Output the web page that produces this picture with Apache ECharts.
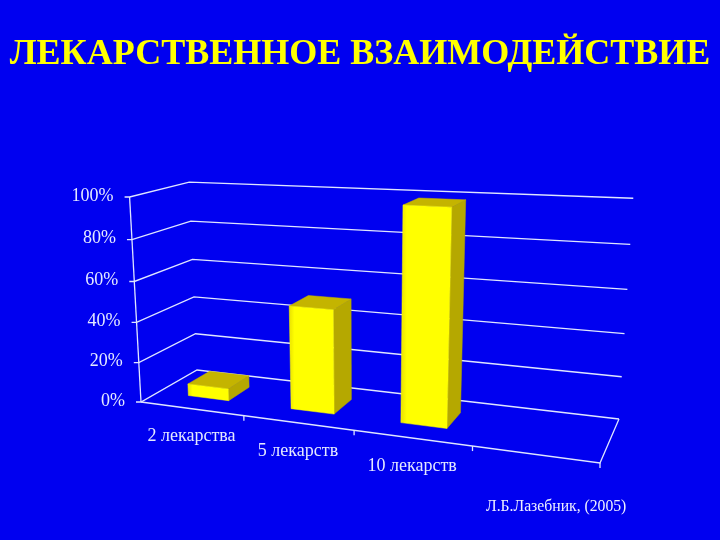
<!DOCTYPE html>
<html>
<head>
<meta charset="utf-8">
<style>html,body{margin:0;padding:0;background:#0000f0}#c{width:720px;height:540px}</style>
<script src="https://cdn.jsdelivr.net/npm/echarts@6/dist/echarts.min.js"></script>
</head>
<body>
<div id="c"></div>
<script>
const titleText = 'ЛЕКАРСТВЕННОЕ ВЗАИМОДЕЙСТВИЕ';
const sourceText = 'Л.Б.Лазебник, (2005)';
const categories = ['2 лекарства', '5 лекарств', '10 лекарств', ''];
const drugShare = [6, 50, 99, null];
const yTicks = [0, 20, 40, 60, 80, 100];

// Camera: where the chart box's corners land on the page (perspective anchors)
const FL0 = [141, 402], FR0 = [600, 463], BR0 = [619, 419], BL0 = [197, 370];
const FL1 = [129, 195], BL1 = [190, 180], BR1 = [633, 203];
const U_WARP = 0.04;

const LINE = '#dfe6ff', TEXT = '#e4e9ff';
const FRONT = '#ffff00', FRONT_EDGE = '#e8e000', TOP = '#c4b400', SIDE = '#b5a800';

function solve3(A, b) {
  const M = A.map((r, i) => r.concat(b[i]));
  for (let i = 0; i < 3; i++) {
    let p = i;
    for (let r = i + 1; r < 3; r++) if (Math.abs(M[r][i]) > Math.abs(M[p][i])) p = r;
    [M[i], M[p]] = [M[p], M[i]];
    for (let r = 0; r < 3; r++) if (r !== i) {
      const f = M[r][i] / M[i][i];
      for (let c = i; c < 4; c++) M[r][c] -= f * M[i][c];
    }
  }
  return M.map((r, i) => r[3] / r[i]);
}
// Floor homography (u along categories, v depth)
const H = (function () {
  const [x0, y0] = FL0, [x1, y1] = FR0, [x2, y2] = BR0, [x3, y3] = BL0;
  const dx1 = x1 - x2, dx2 = x3 - x2, sx = x0 - x1 + x2 - x3;
  const dy1 = y1 - y2, dy2 = y3 - y2, sy = y0 - y1 + y2 - y3;
  const den = dx1 * dy2 - dx2 * dy1;
  const g = (sx * dy2 - dx2 * sy) / den, h = (dx1 * sy - sx * dy1) / den;
  return { a: x1 - x0 + g * x1, b: x3 - x0 + h * x3, c: x0,
           d: y1 - y0 + g * y1, e: y3 - y0 + h * y3, f: y0, g, h };
})();
// Height column fitted from the three known top corners
const V = (function () {
  const eqs = [], rhs = [];
  [[0, 0, FL1], [0, 1, BL1], [1, 1, BR1]].forEach(([u, v, s]) => {
    const W = H.g * u + H.h * v + 1;
    eqs.push([1, 0, -s[0]]); rhs.push(s[0] * W - (H.a * u + H.b * v + H.c));
    eqs.push([0, 1, -s[1]]); rhs.push(s[1] * W - (H.d * u + H.e * v + H.f));
  });
  const A = [0, 1, 2].map(i => [0, 1, 2].map(j => eqs.reduce((t, r) => t + r[i] * r[j], 0)));
  const b = [0, 1, 2].map(i => eqs.reduce((t, r, n) => t + r[i] * rhs[n], 0));
  const [p, q, k] = solve3(A, b);
  return { p, q, k };
})();
function proj(u0, v, t) {
  const u = u0 * (1 + U_WARP) / (1 + U_WARP * u0);
  const w = H.g * u + H.h * v + 1 + V.k * t;
  return [(H.a * u + H.b * v + H.c + V.p * t) / w, (H.d * u + H.e * v + H.f + V.q * t) / w];
}

const lineStyle = { stroke: LINE, lineWidth: 1.3, fill: null };
function poly(points) { return { type: 'polyline', shape: { points }, style: lineStyle, silent: true }; }
function face(points, fill) { return { type: 'polygon', shape: { points }, style: { fill, stroke: typeof fill === 'string' ? fill : FRONT, lineWidth: 0.5 } }; }
const norm = {
  u: (c, s) => (c[0] - s.x) / s.width,
  t: (c, s) => (s.y + s.height - c[1]) / s.height
};
const frontFill = new echarts.graphic.LinearGradient(0, 0, 1, 0, [
  { offset: 0, color: FRONT_EDGE }, { offset: 0.12, color: FRONT }, { offset: 1, color: FRONT }
]);

const option = {
  animation: false,
  backgroundColor: '#0000f0',
  title: [
    { text: titleText, left: 'center', top: 32, textStyle: { fontFamily: 'Liberation Serif', fontSize: 36, fontWeight: 'bold', color: '#ffff00' } },
    { text: sourceText, left: 481, top: 494, textStyle: { fontFamily: 'Liberation Serif', fontSize: 15.7, fontWeight: 'normal', color: '#eef0ff' } }
  ],
  // Hidden scales: values pass through them, then through the perspective projection
  grid: { left: 0, top: 0, width: 400, height: 400, show: false },
  xAxis: { type: 'category', data: categories, show: false },
  yAxis: { type: 'value', min: 0, max: 100, interval: 20, show: false },
  series: [
    { // floor outline and chart axis
      type: 'custom', coordinateSystem: 'cartesian2d', silent: true, z: 1,
      data: [[0, 0]],
      renderItem(params, api) {
        const band = api.size([1, 0])[0], s = params.coordSys, n = categories.length;
        const kids = [
          poly([proj(0, 0, 0), proj(1, 0, 0), proj(1, 1, 0)]),
          poly([proj(0, 0, 0), proj(0, 0, 1)])
        ];
        for (let i = 1; i <= n; i++) {
          const p = proj(i * band / s.width, 0, 0);
          kids.push(poly([p, [p[0], p[1] + 5]]));
        }
        return { type: 'group', children: kids };
      }
    },
    { // gridlines and value labels
      type: 'custom', coordinateSystem: 'cartesian2d', silent: true, z: 1,
      data: yTicks.map(t => [0, t]),
      encode: { x: 0, y: 1 },
      renderItem(params, api) {
        const t = norm.t(api.coord([0, api.value(1)]), params.coordSys);
        const a = proj(0, 0, t);
        return { type: 'group', children: [
          poly([[a[0] - 5, a[1]], a, proj(0, 1, t), proj(1, 1, t)]),
          { type: 'text', style: { x: a[0] - 16, y: a[1] - 1, text: api.value(1) + '%', align: 'right', verticalAlign: 'middle',
            fontFamily: 'Liberation Serif', fontSize: 18, fill: TEXT } }
        ] };
      }
    },
    { // bars
      type: 'custom', coordinateSystem: 'cartesian2d', silent: true, z: 2,
      data: categories.map((c, i) => [i, drugShare[i]]),
      encode: { x: 0, y: 1 },
      renderItem(params, api) {
        if (isNaN(api.value(1))) return null;
        const s = params.coordSys, band = api.size([1, 0])[0];
        const c = api.coord([api.value(0), api.value(1)]);
        const uc = norm.u(c, s), t = norm.t(c, s), half = 0.2 * band / s.width;
        const u0 = uc - half, u1 = uc + half, v0 = 0.3, v1 = 0.7;
        return { type: 'group', children: [
          face([proj(u1, v0, 0), proj(u1, v1, 0), proj(u1, v1, t), proj(u1, v0, t)], SIDE),
          face([proj(u0, v0, t), proj(u1, v0, t), proj(u1, v1, t), proj(u0, v1, t)], TOP),
          face([proj(u0, v0, 0), proj(u1, v0, 0), proj(u1, v0, t), proj(u0, v0, t)], frontFill)
        ] };
      }
    },
    { // category labels
      type: 'custom', coordinateSystem: 'cartesian2d', silent: true, z: 3,
      data: categories.map((c, i) => [i, 0]),
      encode: { x: 0, y: 1 },
      renderItem(params, api) {
        const name = categories[api.value(0)];
        if (!name) return null;
        const u = norm.u(api.coord([api.value(0), 0]), params.coordSys);
        const p = proj(u, 0, 0);
        return { type: 'text', style: { x: p[0], y: p[1] + 28, text: name, align: 'center', verticalAlign: 'middle',
          fontFamily: 'Liberation Serif', fontSize: 18, fill: TEXT } };
      }
    }
  ]
};
const chart = echarts.init(document.getElementById('c'), null, { width: 720, height: 540 });
chart.setOption(option);
</script>
</body>
</html>
